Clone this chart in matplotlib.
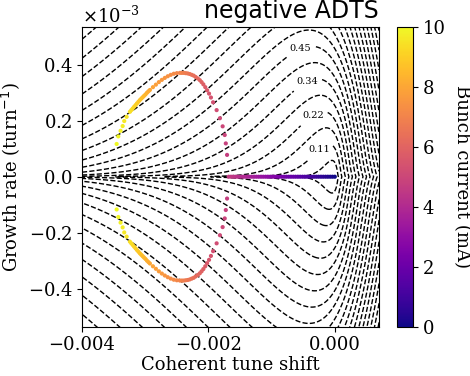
import numpy as np
import matplotlib
matplotlib.use("Agg")
import matplotlib.pyplot as plt

plt.rcParams["font.family"] = "serif"
plt.rcParams["font.size"] = 13

# solver output vs bunch current; tune shift and growth rate in units of 1e-3
current_single = [0.0, 0.1, 0.2, 0.3, 0.4, 0.5, 0.6, 0.7, 0.8, 0.9,
                  1.0, 1.1, 1.2, 1.3, 1.4, 1.5, 1.6, 1.7, 1.8, 1.9,
                  2.0, 2.1, 2.2, 2.3, 2.4, 2.5, 2.6, 2.7, 2.8, 2.9,
                  3.0, 3.1, 3.2, 3.3, 3.4, 3.5, 3.6, 3.7, 3.8, 3.9,
                  4.0, 4.1, 4.2, 4.3, 4.4, 4.5, 4.6]
tune_single = [0.000, -0.037, -0.073, -0.110, -0.146, -0.183, -0.219, -0.256,
               -0.292, -0.329, -0.365, -0.402, -0.438, -0.475, -0.511, -0.548,
               -0.584, -0.621, -0.657, -0.694, -0.730, -0.767, -0.803, -0.840,
               -0.876, -0.913, -0.949, -0.986, -1.022, -1.059, -1.095, -1.132,
               -1.168, -1.205, -1.241, -1.278, -1.314, -1.351, -1.387, -1.424,
               -1.460, -1.497, -1.533, -1.570, -1.606, -1.643, -1.679]

# above threshold the two coupled modes form a +/- growth-rate pair
current_coupled = [4.7, 4.8, 4.9, 5.0, 5.1, 5.2, 5.3, 5.4, 5.5, 5.6,
                   5.7, 5.8, 5.9, 6.0, 6.1, 6.2, 6.3, 6.4, 6.5, 6.6,
                   6.7, 6.8, 6.9, 7.0, 7.1, 7.2, 7.3, 7.4, 7.5, 7.6,
                   7.7, 7.8, 7.9, 8.0, 8.1, 8.2, 8.3, 8.4, 8.5, 8.6,
                   8.7, 8.8, 8.9, 9.0, 9.1, 9.2, 9.3, 9.4, 9.5, 9.6,
                   9.7, 9.8, 9.9, 10.0]
tune_coupled = [-1.705, -1.725, -1.742, -1.775, -1.818, -1.870, -1.926, -1.960,
                -1.990, -2.020, -2.050, -2.080, -2.108, -2.136, -2.168, -2.200,
                -2.232, -2.264, -2.296, -2.328, -2.360, -2.392, -2.422, -2.452,
                -2.500, -2.548, -2.596, -2.643, -2.690, -2.737, -2.784, -2.831,
                -2.878, -2.926, -2.949, -2.972, -2.995, -3.018, -3.040, -3.062,
                -3.084, -3.107, -3.130, -3.152, -3.175, -3.197, -3.220, -3.242,
                -3.294, -3.332, -3.357, -3.390, -3.426, -3.452]
growth_coupled = [0.078, 0.119, 0.149, 0.180, 0.209, 0.238, 0.266, 0.283,
                  0.297, 0.309, 0.320, 0.330, 0.338, 0.345, 0.351, 0.356,
                  0.361, 0.364, 0.367, 0.369, 0.370, 0.371, 0.371, 0.371,
                  0.370, 0.368, 0.364, 0.359, 0.353, 0.346, 0.338, 0.329,
                  0.320, 0.310, 0.305, 0.300, 0.294, 0.289, 0.284, 0.279,
                  0.274, 0.268, 0.262, 0.256, 0.250, 0.244, 0.238, 0.232,
                  0.214, 0.199, 0.181, 0.164, 0.144, 0.117]

# stability-diagram family: one dashed loop per tune-spread level
level_step = 0.0559
n_levels = 30
labelled = [2, 4, 6, 8]   # level indices carrying an inline label
spread_unit = 1e-3        # tune spread per unit of contour level
label_pos = [(-0.000544, 0.000457), (-0.000449, 0.000341),
             (-0.000355, 0.000221), (-0.000269, 0.0001025)]


def ei(x):
    """Exponential integral Ei(x) for x > 0 (power series)."""
    total = np.zeros_like(x)
    term = np.ones_like(x)
    for k in range(1, 260):
        term = term * x / k
        total += term / k
    return np.euler_gamma + np.log(x) + total


# normalised stability diagram for negative ADTS, exponential action distribution
u = np.concatenate([np.logspace(-7, -1, 300), np.linspace(0.1, 45, 3000)[1:]])
disp = 1 - u * np.exp(-u) * ei(u) - 1j * np.pi * u * np.exp(-u)
sd = 1 / disp
phi_sd = np.concatenate([[0.0], np.arctan2(sd.imag, sd.real)])
r_sd = np.concatenate([[1.0], np.abs(sd)])
order = np.argsort(phi_sd)
phi_sd, r_sd = phi_sd[order], r_sd[order]

gx = np.linspace(-0.004, 0.0007, 900)
gy = np.linspace(-0.00054, 0.00054, 600)
X, Y = np.meshgrid(gx, gy)
rho = np.hypot(X, Y)
phi = np.arctan2(np.abs(Y), X)
F = rho / (np.interp(phi, phi_sd, r_sd) * spread_unit)

idx = np.arange(1, n_levels + 1)
plain_levels = level_step * idx[~np.isin(idx, labelled)]
label_levels = level_step * np.array(labelled)

fig = plt.figure(figsize=(4.7, 3.76), dpi=100)
ax = fig.add_axes([0.1745, 0.131, 0.632, 0.798])
cax = fig.add_axes([0.844, 0.131, 0.035, 0.798])

ax.contour(X, Y, F, levels=plain_levels, colors="k", linestyles="--",
           linewidths=1.0)
cs = ax.contour(X, Y, F, levels=label_levels, colors="k", linestyles="--",
                linewidths=1.0)
labels = ax.clabel(cs, manual=label_pos, fmt="%.2f", fontsize=7, inline=True)
for t in labels:
    t.set_rotation(0)

ts = np.array(tune_single) * 1e-3
tc = np.array(tune_coupled) * 1e-3
gc = np.array(growth_coupled) * 1e-3
sc = ax.scatter(ts, np.zeros_like(ts), c=current_single, cmap="plasma",
                vmin=0, vmax=10, s=9, linewidths=0, zorder=3)
ax.scatter(tc, gc, c=current_coupled, cmap="plasma", vmin=0, vmax=10,
           s=9, linewidths=0, zorder=3)
ax.scatter(tc, -gc, c=current_coupled, cmap="plasma", vmin=0, vmax=10,
           s=9, linewidths=0, zorder=3)

ax.set_xlim(-0.004, 0.0007)
ax.set_ylim(-0.000536, 0.000536)
ax.set_xticks([-0.004, -0.002, 0.0])
ax.set_yticks([-0.0004, -0.0002, 0.0, 0.0002, 0.0004])
ax.ticklabel_format(axis="y", style="sci", scilimits=(-3, -3),
                    useMathText=True)
ax.set_xlabel("Coherent tune shift", labelpad=1)
ax.set_ylabel("Growth rate (turn$^{-1}$)")
ax.set_title("negative ADTS", loc="right", fontsize=17, family="DejaVu Sans")

cb = fig.colorbar(sc, cax=cax)
cb.set_ticks([0, 2, 4, 6, 8, 10])
cb.set_label("Bunch current (mA)", rotation=270, labelpad=18)

fig.savefig("out.png", dpi=100)
